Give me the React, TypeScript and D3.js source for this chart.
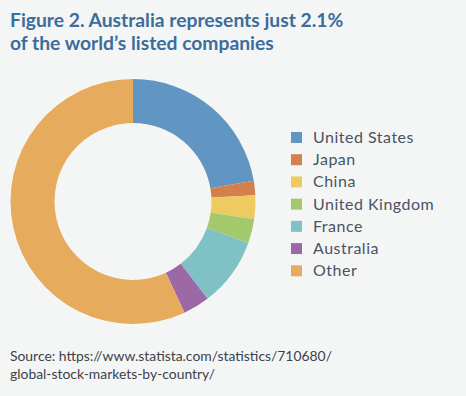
import React, { useRef, useEffect } from "react";
import * as d3 from "d3";

const countries = ["United States", "Japan", "China", "United Kingdom", "France", "Australia", "Other"];
const shares = [22.3, 1.9, 3.1, 3.2, 9.1, 3.5, 56.9];
const colors = ["#6096c1", "#d4804b", "#eecb60", "#a4c96c", "#80c1c5", "#9c69a6", "#e6ab5c"];

const W = 466;
const H = 396;

const App = () => {
  const ref = useRef<SVGSVGElement>(null);

  useEffect(() => {
    const svg = d3.select(ref.current);
    svg.selectAll("*").remove();

    svg.append("rect").attr("width", W).attr("height", H).attr("fill", "#f4f6f6");

    // title
    const title = svg
      .append("text")
      .attr("fill", "#3b6d9b")
      .attr("font-family", "Lato, sans-serif")
      .attr("font-weight", "bold")
      .attr("font-size", 19.3);
    title.append("tspan").attr("x", 10).attr("y", 27).text("Figure 2. Australia represents just 2.1%");
    title.append("tspan").attr("x", 10).attr("y", 50).text("of the world\u2019s listed companies");

    const color = d3.scaleOrdinal<string, string>().domain(countries).range(colors);

    const pie = d3
      .pie<number>()
      .value((d) => d)
      .sort(null);

    const arc = d3.arc<d3.PieArcDatum<number>>().innerRadius(78.5).outerRadius(122.5);

    const g = svg.append("g").attr("transform", "translate(133,201.5)");

    g.selectAll("path")
      .data(pie(shares))
      .enter()
      .append("path")
      .attr("d", arc)
      .attr("fill", (d, i) => color(countries[i]));

    // legend
    const y = d3.scaleBand().domain(countries).range([126.5, 282]);
    const legend = svg
      .selectAll(".leg")
      .data(countries)
      .enter()
      .append("g")
      .attr("class", "leg")
      .attr("transform", (d) => `translate(291,${y(d)})`);

    legend
      .append("rect")
      .attr("y", 5.5)
      .attr("width", 11)
      .attr("height", 11)
      .attr("fill", (d) => color(d));

    legend
      .append("text")
      .attr("x", 22)
      .attr("y", 16.5)
      .attr("fill", "#4b5263")
      .attr("font-family", "Lato, sans-serif")
      .attr("font-size", 16)
      .attr("letter-spacing", 0.5)
      .text((d) => d);

    // source
    const src = svg
      .append("text")
      .attr("fill", "#3d4149")
      .attr("font-family", "Lato, sans-serif")
      .attr("font-size", 13.9);
    src.append("tspan").attr("x", 10).attr("y", 361).text("Source: https://www.statista.com/statistics/710680/");
    src.append("tspan").attr("x", 10).attr("y", 378.5).text("global-stock-markets-by-country/");
  }, []);

  return (
    <svg
      ref={ref}
      width={W}
      height={H}
      style={{ position: "absolute", left: 0, top: 0, display: "block" }}
    />
  );
};

export default App;
